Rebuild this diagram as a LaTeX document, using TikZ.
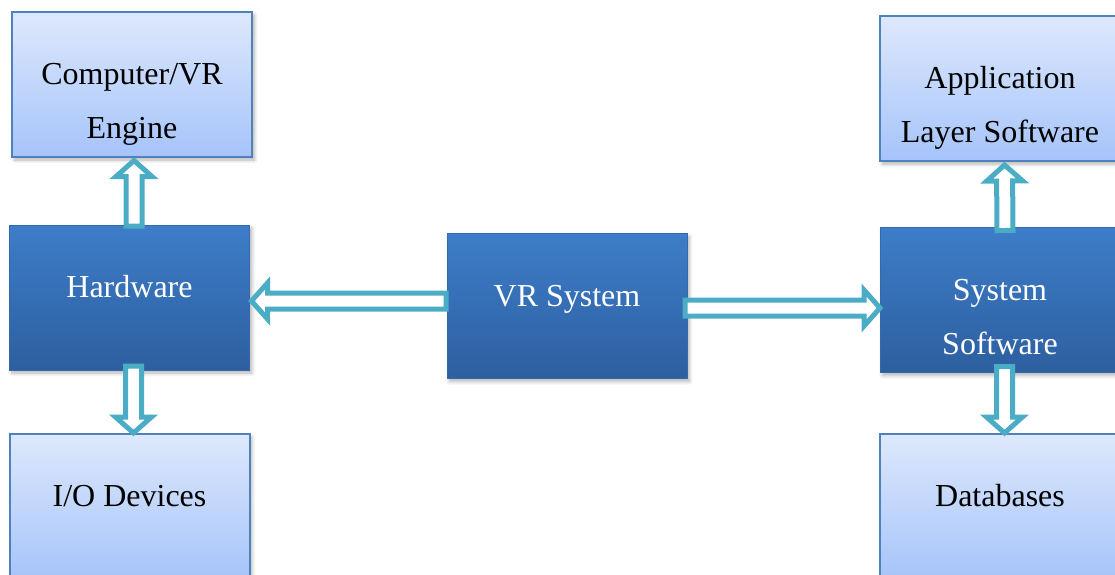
\documentclass[tikz,border=0pt]{standalone}
\usepackage{fontspec}
\setmainfont{Liberation Serif}
\usetikzlibrary{calc,shadows.blur}

\definecolor{boxedge}{HTML}{4F81BD}
\definecolor{litetop}{HTML}{DDE8FC}
\definecolor{litebot}{HTML}{A6C4FA}
\definecolor{darktop}{HTML}{3D7DC9}
\definecolor{darkbot}{HTML}{2D5F9F}
\definecolor{arrowteal}{HTML}{4BACC6}

\tikzset{vrbox/.style={
    minimum width=120pt, minimum height=72.5pt, inner sep=0pt, outer sep=0pt,
    align=center, font=\fontsize{16}{27}\selectfont,
    text height=10pt, text depth=10pt,
    blur shadow={shadow xshift=1.2pt, shadow yshift=-1.5pt, shadow blur steps=6, shadow opacity=30}
  }
}
\tikzset{twoline/.style={text height=62pt, text depth=8pt}}
\tikzset{litebox/.style={vrbox, draw=boxedge, line width=1pt,
    top color=litetop, bottom color=litebot, text=black}}
\tikzset{darkbox/.style={vrbox, draw=darktop!85!black, line width=0.4pt,
    top color=darktop, bottom color=darkbot, text=white}}
\tikzset{hollow/.style={draw=arrowteal, line width=2.5pt, fill=white, line join=miter}}

% hollow block arrow from #1 to #2 (tip)
\newcommand{\hollowarrow}[2]{%
  \coordinate (ha-s) at #1;
  \coordinate (ha-t) at #2;
  \coordinate (ha-b) at ($(ha-t)!8pt!(ha-s)$);
  \draw[hollow] ($(ha-s)!4pt!90:(ha-t)$) -- ($(ha-b)!4pt!-90:(ha-s)$)
    -- ($(ha-b)!9pt!-90:(ha-s)$) -- (ha-t) -- ($(ha-b)!9pt!90:(ha-s)$)
    -- ($(ha-b)!4pt!90:(ha-s)$) -- ($(ha-s)!4pt!-90:(ha-t)$) -- cycle;
}

\begin{document}
\begin{tikzpicture}[x=0.5pt, y=-0.5pt]
   \useasboundingbox (0,0) rectangle (1115,574);
   % left column
   \node[litebox, twoline] (eng) at (132,84.5) {Computer/VR\\Engine};
   \node[darkbox] (hw) at (129.5,297.5) {Hardware};
   \node[litebox] (io) at (129.5,506.5) {I/O Devices};
   % middle
   \node[darkbox] (vr) at (567,306) {VR System};
   % right column
   \node[litebox, twoline] (app) at (1000,88.5) {Application\\Layer Software};
   \node[darkbox, twoline] (sys) at (1000,300) {System\\Software};
   \node[litebox] (db) at (1000,506.5) {Databases};

   \hollowarrow{($(hw.north)+(4.5,1)$)}{($(eng.south)+(2,3.5)$)}
   \hollowarrow{($(hw.south)+(4,-4)$)}{($(io.north)+(4,-1)$)}
   \hollowarrow{($(vr.west)+(-1,-5)$)}{($(hw.east)+(2,3.5)$)}
   \hollowarrow{($(vr.east)+(-2,2)$)}{($(sys.west)+(0,8)$)}
   \hollowarrow{($(sys.north)+(5,3)$)}{($(app.south)+(4.5,4)$)}
   \hollowarrow{($(sys.south)+(4.5,-6)$)}{($(db.north)+(4.5,-1)$)}
\end{tikzpicture}
\end{document}
